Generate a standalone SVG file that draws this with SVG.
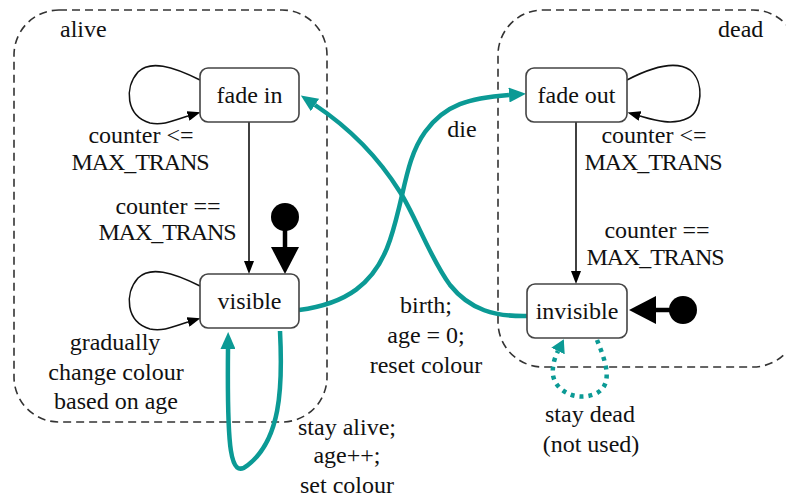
<svg xmlns="http://www.w3.org/2000/svg" width="786" height="500" viewBox="0 0 786 500" font-family="'Liberation Serif', 'Times New Roman', 'DejaVu Serif', serif">
  <style>
    text { font-family: 'Liberation Serif', 'Times New Roman', Tinos, 'DejaVu Serif', serif; font-size: 24px; fill: #111; }
    .mid { text-anchor: middle; }
    .caps { letter-spacing: -1.1px; }
    .cluster { fill: none; stroke: #333; stroke-width: 1.6; stroke-dasharray: 8 5; }
    .state { fill: #fff; stroke: #444; stroke-width: 1.6; }
    .edge { fill: none; stroke: #111; stroke-width: 1.6; }
    .teal { fill: none; stroke: #0b9a95; stroke-width: 4.5; }
    .dotted { fill: none; stroke: #0b9a95; stroke-width: 4.5; stroke-dasharray: 4 5; }
    .init { fill: none; stroke: #000; stroke-width: 4.5; }
  </style>
  <defs>
    <marker id="arrow" markerUnits="userSpaceOnUse" markerWidth="13" markerHeight="10" refX="0" refY="5" orient="auto">
      <path d="M0,0 L13,5 L0,10 z" fill="#000"/>
    </marker>
    <marker id="arrowTeal" markerUnits="userSpaceOnUse" markerWidth="17" markerHeight="15" refX="0" refY="7.5" orient="auto">
      <path d="M0,0 L17,7.5 L0,15 z" fill="#0b9a95"/>
    </marker>
    <marker id="arrowTealSmall" markerUnits="userSpaceOnUse" markerWidth="13" markerHeight="15" refX="0" refY="7.5" orient="auto">
      <path d="M0,0 L13,7.5 L0,15 z" fill="#0b9a95"/>
    </marker>
    <marker id="arrowInit" markerUnits="userSpaceOnUse" markerWidth="27" markerHeight="28" refX="0" refY="14" orient="auto">
      <path d="M0,0 L27,14 L0,28 z" fill="#000"/>
    </marker>
  </defs>

  <!-- composite states -->
  <g id="alive">
    <rect class="cluster" x="14" y="10" width="313" height="412" rx="45"/>
    <text x="60" y="37">alive</text>
  </g>
  <g id="dead">
    <rect class="cluster" x="498" y="10" width="300" height="357" rx="45"/>
    <text x="718" y="37">dead</text>
  </g>

  <!-- transitions -->
  <g id="connectors">
    <!-- fade in self loop -->
    <path class="edge" d="M200,80 C172,66 150,60 138,72 C124,88 126,116 150,123 C163,126 175,120 188,116" marker-end="url(#arrow)"/>
    <text class="mid" x="141" y="143">counter &lt;=</text>
    <text class="mid caps" x="140" y="170">MAX_TRANS</text>

    <!-- fade in to visible -->
    <path class="edge" d="M249,122 L249,261" marker-end="url(#arrow)"/>
    <text class="mid" x="168" y="214">counter ==</text>
    <text class="mid caps" x="167" y="240">MAX_TRANS</text>

    <!-- visible self loop -->
    <path class="edge" d="M200,286 C172,272 150,266 138,278 C124,294 126,322 150,329 C163,332 175,326 188,322" marker-end="url(#arrow)"/>
    <text class="mid" x="115" y="350">gradually</text>
    <text class="mid" x="116" y="380">change colour</text>
    <text class="mid" x="116" y="409">based on age</text>

    <!-- initial state of alive -->
    <circle cx="285" cy="217" r="14" fill="#000"/>
    <path class="init" d="M285,230 L285,247" marker-end="url(#arrowInit)"/>

    <!-- fade out self loop -->
    <path class="edge" d="M627,80 C650,68 675,60 690,70 C705,82 702,112 688,118 C672,126 654,120 640,116" marker-end="url(#arrow)"/>
    <text class="mid" x="654" y="143">counter &lt;=</text>
    <text class="mid caps" x="653" y="170">MAX_TRANS</text>

    <!-- fade out to invisible -->
    <path class="edge" d="M576,122 L576,271" marker-end="url(#arrow)"/>
    <text class="mid" x="657" y="238">counter ==</text>
    <text class="mid caps" x="655" y="265">MAX_TRANS</text>

    <!-- initial state of dead -->
    <circle cx="683" cy="310" r="14" fill="#000"/>
    <path class="init" d="M670,310 L656,310" marker-end="url(#arrowInit)"/>

    <!-- die: visible to fade out -->
    <path class="teal" d="M299,310 C345,304 375,285 390,240 S405,160 425,132 S470,98 509,95" marker-end="url(#arrowTeal)"/>
    <text class="mid" x="462" y="137">die</text>

    <!-- birth: invisible to fade in -->
    <path class="teal" d="M529,316 C495,317 470,310 450,285 C430,258 415,215 400,192 C385,168 360,135 315,105" marker-end="url(#arrowTeal)"/>
    <text class="mid" x="426" y="313">birth;</text>
    <text class="mid" x="426" y="343">age = 0;</text>
    <text class="mid" x="426" y="373">reset colour</text>

    <!-- stay alive: visible self loop below -->
    <path class="teal" d="M280,331 C283,390 280,440 248,465 C230,480 227,450 228,349" marker-end="url(#arrowTeal)"/>
    <text class="mid" x="347" y="435">stay alive;</text>
    <text class="mid" x="347" y="463">age++;</text>
    <text class="mid" x="347" y="493">set colour</text>

    <!-- stay dead: invisible self loop below -->
    <path class="dotted" d="M597,340 C605,360 615,385 595,394 C575,402 555,390 553,375 C552,365 555,357 558,351" marker-end="url(#arrowTealSmall)"/>
    <text class="mid" x="590" y="422">stay dead</text>
    <text class="mid" x="591" y="452">(not used)</text>
  </g>

  <!-- states -->
  <g id="fade-in">
    <rect class="state" x="200" y="68" width="99" height="54" rx="8"/>
    <text class="mid" x="249.5" y="103">fade in</text>
  </g>
  <g id="visible">
    <rect class="state" x="200" y="274" width="99" height="54" rx="8"/>
    <text class="mid" x="249.5" y="309">visible</text>
  </g>
  <g id="fade-out">
    <rect class="state" x="526" y="68" width="101" height="54" rx="8"/>
    <text class="mid" x="576.5" y="103">fade out</text>
  </g>
  <g id="invisible">
    <rect class="state" x="527" y="284" width="100" height="54" rx="8"/>
    <text class="mid" x="577" y="319">invisible</text>
  </g>
</svg>
